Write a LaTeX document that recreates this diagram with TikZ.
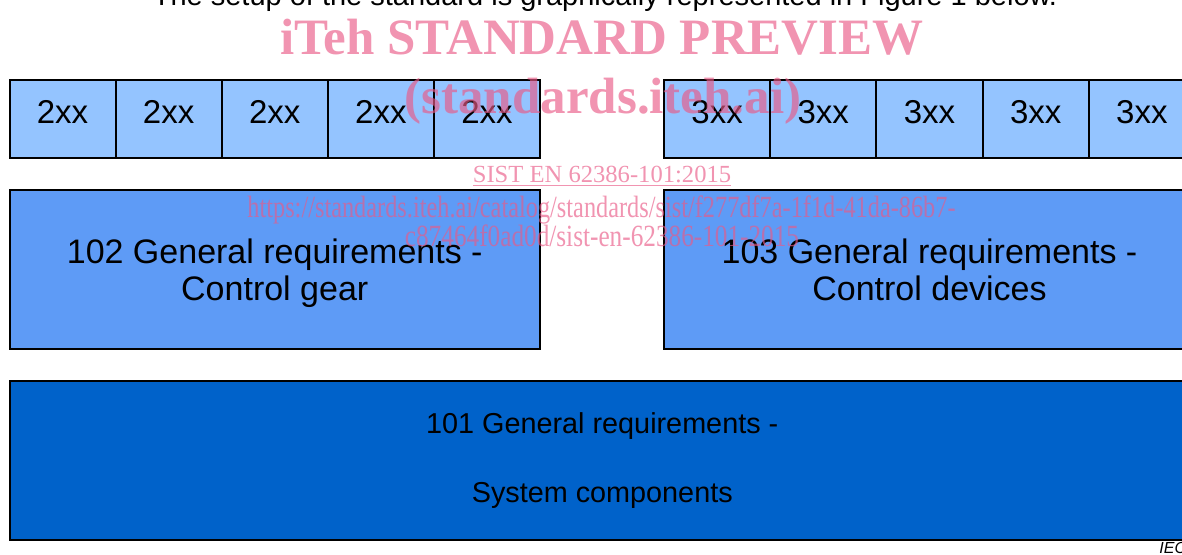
\documentclass[tikz,border=0pt]{standalone}
\usepackage{graphicx}
\usepackage{fontspec}
\setmainfont{Liberation Sans}
\newfontfamily\wmfont{Liberation Serif}
\usetikzlibrary{positioning}

\begin{document}
\begin{tikzpicture}
		[x=0.5pt,y=-0.5pt,
		%Styles
		part box/.style={draw,line width=1pt,fill=partcolor,inner sep=0pt,outer sep=0pt,
			minimum width=53.05pt,minimum height=39pt,
			font=\fontsize{16.5}{18}\selectfont,text height=12pt,text depth=8pt},
		requirement box/.style={draw,line width=1pt,inner sep=0pt,align=center,
			minimum height=79.5pt},
		watermark/.style={text=wmcolor,opacity=0.65,inner sep=0pt,anchor=base}
		]
		
		%Colors
		\definecolor{partcolor}{RGB}{148,196,255}
		\definecolor{reqcolor}{RGB}{94,155,246}
		\definecolor{systemcolor}{RGB}{0,98,202}
		\definecolor{wmcolor}{RGB}{233,90,135}
		
		\useasboundingbox (0,0) rectangle (1182,554);
		
		%Caption line, cut at the top
		\node[anchor=base,inner sep=0pt,font=\fontsize{14.5}{17}\selectfont] (setup) at (605,5)
			{The setup of the standard is graphically represented in Figure 1 below.};
		
		%The graphic
		\node[part box] (gearpart1) at (62.55,119) {2xx};
		\node[part box,right=0pt of gearpart1] (gearpart2) {2xx};
		\node[part box,right=0pt of gearpart2] (gearpart3) {2xx};
		\node[part box,right=0pt of gearpart3] (gearpart4) {2xx};
		\node[part box,right=0pt of gearpart4] (gearpart5) {2xx};
		
		\node[part box,minimum width=53.1pt] (devicepart1) at (717.1,119) {3xx};
		\node[part box,minimum width=53.1pt,right=0pt of devicepart1] (devicepart2) {3xx};
		\node[part box,minimum width=53.1pt,right=0pt of devicepart2] (devicepart3) {3xx};
		\node[part box,minimum width=53.1pt,right=0pt of devicepart3] (devicepart4) {3xx};
		\node[part box,minimum width=53.1pt,right=0pt of devicepart4] (devicepart5) {3xx};
		
		\node[requirement box,fill=reqcolor,minimum width=265.25pt,
			font=\fontsize{17}{18.5}\selectfont] (gearreq) at (274.75,269.5)
			{102 General requirements -\\\smash{Control gear}};
		\node[requirement box,fill=reqcolor,minimum width=265.5pt,
			font=\fontsize{17}{18.5}\selectfont] (devicereq) at (929.5,269.5)
			{103 General requirements -\\Control devices};
		
		\node[requirement box,fill=systemcolor,minimum width=592.75pt,
			font=\fontsize{14.4}{34.5}\selectfont] (systemreq) at (602.25,460.5)
			{101 General requirements -\\System components};
		
		\node[anchor=base west,inner sep=0pt,font=\itshape\fontsize{8}{9}\selectfont] (iec) at (1159,553) {IEC};
		
		%Watermark
		\node[watermark,font=\wmfont\bfseries\fontsize{25.5}{30}\selectfont] (preview) at (602,54) {iTeh STANDARD PREVIEW};
		\node[watermark,font=\wmfont\bfseries\fontsize{25.5}{30}\selectfont] (site) at (603,113) {(standards.iteh.ai)};
		\node[watermark,font=\wmfont\fontsize{12.3}{14}\selectfont] (sist) at (602,182) {\underline{SIST EN 62386-101:2015}};
		\node[watermark,font=\wmfont\fontsize{15.4}{18}\selectfont] (url1) at (601.5,217)
			{\scalebox{0.79}[1]{https://standards.iteh.ai/catalog/standards/sist/f277df7a-1f1d-41da-86b7-}};
		\node[watermark,font=\wmfont\fontsize{15.4}{18}\selectfont] (url2) at (602,246)
			{\scalebox{0.82}[1]{c87464f0ad0d/sist-en-62386-101-2015}};
	\end{tikzpicture}
\end{document}
